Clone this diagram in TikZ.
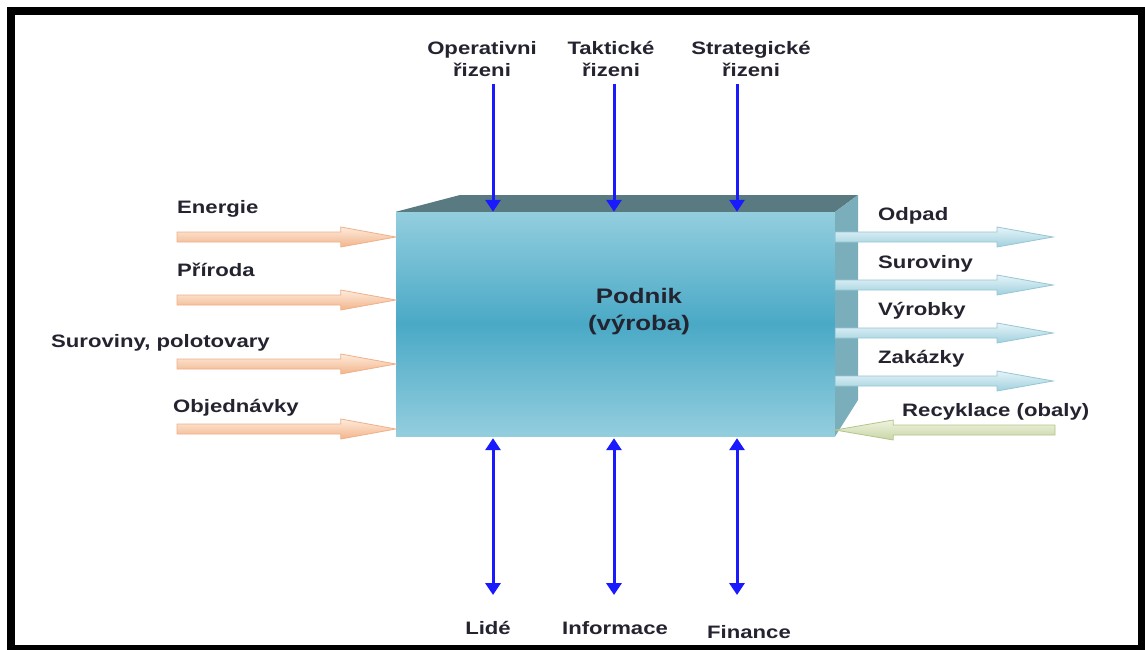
\documentclass[tikz,border=0pt]{standalone}
\usepackage{fontspec}
\setmainfont{Liberation Sans}[FakeStretch=1.23]
\usetikzlibrary{arrows.meta,calc}
\definecolor{txt}{HTML}{242430}
\definecolor{ctlblue}{HTML}{1A1AFF}
\definecolor{facelight}{HTML}{93CEDE}
\definecolor{facedark}{HTML}{4AA9C6}
\definecolor{topface}{HTML}{5A7A82}
\definecolor{sideface}{HTML}{7AAEBB}
\definecolor{peachA}{HTML}{FDEBDD}
\definecolor{peachB}{HTML}{F3B48A}
\definecolor{peachE}{HTML}{F0B088}
\definecolor{skyA}{HTML}{E6F4F8}
\definecolor{skyB}{HTML}{9FD0DE}
\definecolor{skyE}{HTML}{96C6D4}
\definecolor{grnA}{HTML}{EEF3DE}
\definecolor{grnB}{HTML}{C8D6A6}
\definecolor{grnE}{HTML}{B3C48C}
\newcommand\blockarr[4]{%
  \path[#3] let \p1=(#1), \p2=(#2) in
    (\x1,{\y1+5pt}) -- ({\x2-(#4)},{\y1+5pt}) -- ({\x2-(#4)},{\y1+10pt})
    -- (\x2,\y1) -- ({\x2-(#4)},{\y1-10pt}) -- ({\x2-(#4)},{\y1-5pt})
    -- (\x1,{\y1-5pt}) -- cycle;}
\begin{document}
\begin{tikzpicture}[x=1pt,y=-1pt,
  lab/.style={font=\fontsize{18}{22}\selectfont\bfseries, text=txt, inner sep=0pt},
  ctl/.style={draw=ctlblue, line width=3pt, -{Triangle[width=15pt,length=12pt]}},
  res/.style={draw=ctlblue, line width=3pt, {Triangle[width=15pt,length=12pt]}-{Triangle[width=15pt,length=12pt]}},
  inarr/.style={top color=peachA, bottom color=peachB, draw=peachE, line width=0.8pt},
  outarr/.style={top color=skyA, bottom color=skyB, draw=skyE, line width=0.8pt},
  recarr/.style={top color=grnA, bottom color=grnB, draw=grnE, line width=0.8pt},
  boxface/.style={inner sep=0pt, minimum width=439pt, minimum height=224pt,
     top color=facelight, bottom color=facelight, middle color=facedark}]
\useasboundingbox (0,0) rectangle (1145,650);
\fill[white] (0,0) rectangle (1145,650);
% box
\coordinate (tbl) at (460,195);
\coordinate (tbr) at (858,195);
\coordinate (rbb) at (858,400);
\node[boxface] (box) at (615.5,324) {};
\fill[topface] (box.north west) -- (tbl) -- (tbr) -- (box.north east) -- cycle;
\fill[sideface] (box.north east) -- (tbr) -- (rbb) -- (box.south east) -- cycle;
\node[lab, font=\fontsize{21}{27}\selectfont\bfseries, align=center] (podnik) at (639,312) {Podnik\\(výroba)};
% top control arrows
\coordinate (c1) at (493,84);
\coordinate (c2) at (614,84);
\coordinate (c3) at (737,84);
\draw[ctl] (c1) -- (c1 |- box.north);
\draw[ctl] (c2) -- (c2 |- box.north);
\draw[ctl] (c3) -- (c3 |- box.north);
\node[lab, anchor=base] (lc1) at (482,55) {\begin{tabular}[t]{@{}c@{}}Operativni\\řizeni\end{tabular}};
\node[lab, anchor=base] (lc2) at (611,55) {\begin{tabular}[t]{@{}c@{}}Taktické\\řizeni\end{tabular}};
\node[lab, anchor=base] (lc3) at (751,55) {\begin{tabular}[t]{@{}c@{}}Strategické\\řizeni\end{tabular}};
% bottom resource arrows
\coordinate (r1) at (493,595);
\coordinate (r2) at (614,595);
\coordinate (r3) at (737,595);
\draw[res] ([yshift=-2pt]r1 |- box.south) -- (r1);
\draw[res] ([yshift=-2pt]r2 |- box.south) -- (r2);
\draw[res] ([yshift=-2pt]r3 |- box.south) -- (r3);
\node[lab, anchor=base] (lr1) at (488,634) {Lidé};
\node[lab, anchor=base] (lr2) at (615,634) {Informace};
\node[lab, anchor=base] (lr3) at (749,638) {Finance};
% inputs
\coordinate (i1) at (177,237);
\coordinate (i2) at (177,300);
\coordinate (i3) at (177,364);
\coordinate (i4) at (177,429);
\blockarr{i1}{i1 -| box.west}{inarr}{55pt}
\blockarr{i2}{i2 -| box.west}{inarr}{55pt}
\blockarr{i3}{i3 -| box.west}{inarr}{55pt}
\blockarr{i4}{i4 -| box.west}{inarr}{55pt}
\node[lab, anchor=base west] (li1) at (177,213) {Energie};
\node[lab, anchor=base west] (li2) at (177,276) {Příroda};
\node[lab, anchor=base west] (li3) at (51,347) {Suroviny, polotovary};
\node[lab, anchor=base west] (li4) at (173,412) {Objednávky};
% outputs
\coordinate (o1) at (1053,237);
\coordinate (o2) at (1053,285);
\coordinate (o3) at (1053,333);
\coordinate (o4) at (1053,381);
\blockarr{o1 -| box.east}{o1}{outarr}{56pt}
\blockarr{o2 -| box.east}{o2}{outarr}{56pt}
\blockarr{o3 -| box.east}{o3}{outarr}{56pt}
\blockarr{o4 -| box.east}{o4}{outarr}{56pt}
\node[lab, anchor=base west] (lo1) at (878,220) {Odpad};
\node[lab, anchor=base west] (lo2) at (878,268) {Suroviny};
\node[lab, anchor=base west] (lo3) at (878,315) {Výrobky};
\node[lab, anchor=base west] (lo4) at (878,363) {Zakázky};
% recycling
\coordinate (rc) at (1055,430);
\blockarr{rc}{rc -| box.east}{recarr}{-58pt}
\node[lab, anchor=base west] (lrc) at (902,416) {Recyklace (obaly)};
% frame
\draw[line width=8pt] (11,11) rectangle (1142,649);
\end{tikzpicture}
\end{document}
